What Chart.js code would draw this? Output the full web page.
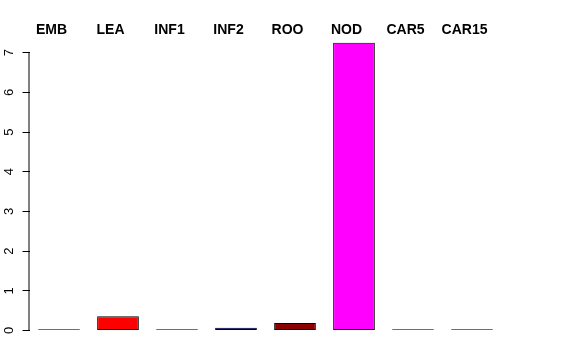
<!DOCTYPE html>
<html>
<head>
<meta charset="utf-8">
<script src="https://cdn.jsdelivr.net/npm/chart.js@4/dist/chart.umd.min.js"></script>
<style>
  body { margin: 0; background: #fff; }
  #wrap { width: 576px; height: 360px; }
</style>
</head>
<body>
<div id="wrap"><canvas id="grafico" width="576" height="360"></canvas></div>
<script>
// tissues shown across the top
const categorias = ['EMB', 'LEA', 'INF1', 'INF2', 'ROO', 'NOD', 'CAR5', 'CAR15'];
// values (near-zero ones show only as a line)
const valores = [0.03, 0.36, 0.03, 0.07, 0.19, 7.25, 0.03, 0.03];
const cores = ['#000000', '#FF0000', '#00CD00', '#0000FF', '#8B0000', '#FF00FF', '#FFFF00', '#00FFFF'];
const ticksY = [0, 1, 2, 3, 4, 5, 6, 7];

const eixoR = {
    id: 'eixoR',
    afterDraw(chart) {
        const ctx = chart.ctx;
        const y = chart.scales.y;
        const x0 = chart.chartArea.left - 0.5;
        ctx.save();
        ctx.strokeStyle = '#000';
        ctx.lineWidth = 1;
        ctx.beginPath();
        ctx.moveTo(x0, y.getPixelForValue(ticksY[0]));
        ctx.lineTo(x0, y.getPixelForValue(ticksY[ticksY.length - 1]));
        ctx.stroke();
        ctx.fillStyle = '#000';
        ctx.font = '13px "Liberation Sans", Arial, sans-serif';
        ctx.textAlign = 'center';
        ctx.textBaseline = 'alphabetic';
        ticksY.forEach(v => {
            ctx.save();
            ctx.translate(12.5, y.getPixelForValue(v));
            ctx.rotate(-Math.PI / 2);
            ctx.fillText(String(v), 0, 0);
            ctx.restore();
        });
        ctx.restore();
    }
};

const grafico = new Chart(document.getElementById('grafico'), {
    type: 'bar',
    data: {
        labels: categorias,
        datasets: [{
            data: valores,
            backgroundColor: cores,
            borderColor: '#000',
            borderWidth: 1,
            borderSkipped: false,
            barPercentage: 0.707,
            categoryPercentage: 1
        }]
    },
    options: {
        responsive: false,
        animation: false,
        layout: { padding: { left: 0, right: 74.5, top: 0, bottom: 18 } },
        plugins: { legend: { display: false }, tooltip: { enabled: false } },
        scales: {
            x: {
                position: 'top',
                grid: { display: false },
                border: { display: false },
                ticks: {
                    color: '#000',
                    font: { family: '"Liberation Sans", Arial, sans-serif', size: 14, weight: 'bold' },
                    labelOffset: -7.5,
                    padding: -9
                },
                afterFit: s => { s.height = 38; }
            },
            y: {
                min: -0.29,
                max: 7.37,
                afterBuildTicks: s => { s.ticks = ticksY.map(v => ({ value: v })); },
                ticks: { display: false },
                grid: { drawOnChartArea: false, drawTicks: true, tickLength: 7, color: '#000' },
                border: { display: false },
                afterFit: s => { s.width = 29.5; }
            }
        }
    },
    plugins: [eixoR]
});
</script>
</body>
</html>
